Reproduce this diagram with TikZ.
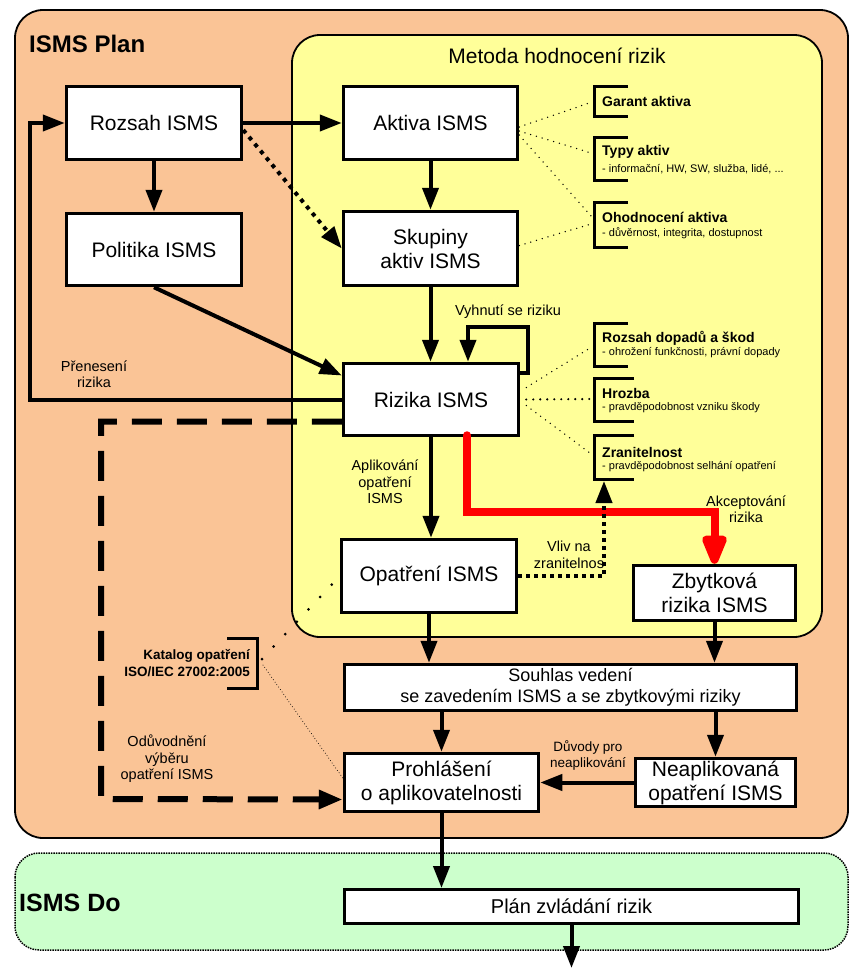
\documentclass[tikz,border=0pt]{standalone}
\usepackage{fontspec}
\setmainfont{Liberation Sans}
\usetikzlibrary{arrows.meta,calc}
\definecolor{planorange}{RGB}{250,196,150}
\definecolor{metyellow}{RGB}{255,255,153}
\definecolor{dogreen}{RGB}{204,255,204}
\newcommand{\fsz}[2]{\fontsize{#1}{#2}\selectfont}
\begin{document}
\begin{tikzpicture}[x=1pt,y=-1pt,
  box/.style={draw, line width=3.5pt, fill=white, align=center, inner sep=0pt, font=\fsz{21}{24}},
  arr/.style={line width=4pt, -{Triangle[length=22pt,width=16pt]}},
  dotarr/.style={line width=4pt, dash pattern=on 4pt off 5pt, -{Triangle[length=22pt,width=16pt]}},
  dasharr/.style={line width=6pt, dash pattern=on 30pt off 15pt, -{Triangle[length=24pt,width=18pt]}},
  redarr/.style={line width=8pt, draw=red, line cap=round, -{Triangle[length=36pt,width=26pt,round=false]}},
  brk/.style={line width=3pt},
  dotline/.style={line width=1.5pt, line cap=round, dash pattern=on 0pt off 6pt},
  bigdots/.style={line width=3pt, line cap=round, dash pattern=on 0pt off 17pt},
  lbl/.style={align=center, inner sep=0pt, font=\fsz{14.5}{16.5}},
  bt/.style={anchor=west, inner sep=0pt, font=\bfseries\fsz{14}{16}},
  bs/.style={anchor=west, inner sep=0pt, font=\fsz{11}{13}}
]
\useasboundingbox (0,0) rectangle (867,977);
\fill[white] (0,0) rectangle (867,977);

% regions
\draw[line width=1.8pt, fill=planorange, rounded corners=28pt] (15,10) rectangle (848,838);
\draw[line width=1.8pt, fill=metyellow, rounded corners=28pt] (292,35) rectangle (822,637);
\draw[line width=1.5pt, fill=dogreen, rounded corners=24pt, densely dotted] (15,853) rectangle (848,950);

\node[anchor=west, inner sep=0pt, font=\bfseries\fsz{24}{28}] (plantitle) at (29,44) {ISMS Plan};
\node[inner sep=0pt, font=\fsz{21}{24}] (mettitle) at (557,56) {Metoda hodnocení rizik};
\node[anchor=west, inner sep=0pt, font=\bfseries\fsz{25}{28}] (dotitle) at (19,903) {ISMS Do};

% main boxes
\node[box, minimum width=175pt, minimum height=73pt] (rozsah) at (154,123) {Rozsah ISMS};
\node[box, minimum width=175pt, minimum height=72pt] (politika) at (154,249.5) {Politika ISMS};
\node[box, minimum width=174pt, minimum height=73pt] (aktiva) at (430.5,123) {Aktiva ISMS};
\node[box, minimum width=174pt, minimum height=74pt] (skupiny) at (430.5,248.5) {Skupiny\\aktiv ISMS};
\node[box, minimum width=175pt, minimum height=72pt] (rizika) at (431,399.5) {Rizika ISMS};
\node[box, minimum width=175pt, minimum height=73pt] (opatreni) at (429,576) {Opatření ISMS};
\node[box, minimum width=162pt, minimum height=55pt] (zbytkova) at (714.5,593) {Zbytková\\rizika ISMS};
\node[box, font=\fsz{18}{21}, minimum width=452pt, minimum height=46pt] (souhlas) at (570.5,687.5) {Souhlas vedení\\se zavedením ISMS a se zbytkovými riziky};
\node[box, minimum width=194pt, minimum height=58pt] (prohlaseni) at (441.5,782.5) {Prohlášení\\o aplikovatelnosti};
\node[box, minimum width=160pt, minimum height=48pt] (neapl) at (715.5,782.5) {Neaplikovaná\\opatření ISMS};
\node[box, line width=3pt, font=\fsz{20}{23}, minimum width=454pt, minimum height=34pt] (plan) at (571.5,906.5) {Plán zvládání rizik};

% bracket groups
\draw[brk] (628,86) -- (594,86) -- (594,116) -- (628,116);
\node[bt] (garant) at (602,101) {Garant aktiva};
\draw[brk] (628,137) -- (594,137) -- (594,180) -- (628,180);
\node[bt] (typy) at (602,152) {Typy aktiv};
\node[bs] (typysub) at (602,169) {- informační, HW, SW, služba, lidé, ...};
\draw[brk] (628,202) -- (594,202) -- (594,247) -- (628,247);
\node[bt] (ohodn) at (602,217) {Ohodnocení aktiva};
\node[bs] (ohodnsub) at (602,233) {- důvěrnost, integrita, dostupnost};
\draw[brk] (628,323) -- (594,323) -- (594,366) -- (628,366);
\node[bt] (dopady) at (602,338) {Rozsah dopadů a škod};
\node[bs] (dopadysub) at (602,353) {- ohrožení funkčnosti, právní dopady};
\draw[brk] (634,378) -- (594,378) -- (594,421) -- (634,421);
\node[bt] (hrozba) at (602,393) {Hrozba};
\node[bs] (hrozbasub) at (602,408) {- pravděpodobnost vzniku škody};
\draw[brk] (634,435) -- (594,435) -- (594,479) -- (634,479);
\node[bt] (zranit) at (602,452) {Zranitelnost};
\node[bs] (zranitsub) at (602,467) {- pravděpodobnost selhání opatření};
\coordinate (zranb) at (604,481);
\draw[brk] (227,638) -- (257,638) -- (257,688) -- (227,688);
\node[anchor=east, align=right, inner sep=0pt, font=\bfseries\fsz{13.5}{17}] (katalog) at (250,663) {Katalog opatření\\ISO/IEC 27002:2005};

% labels
\node[lbl] (vyhnuti) at (508,312) {Vyhnutí se riziku};
\node[lbl] (preneseni) at (94,374) {Přenesení\\rizika};
\node[lbl] (aplikovani) at (385,482) {Aplikování\\opatření\\ISMS};
\node[lbl] (akcept) at (746,509) {Akceptování\\rizika};
\node[lbl] (vliv) at (569,555) {Vliv na\\zranitelnos};
\node[lbl, font=\fsz{13.5}{16}] (duvody) at (588,755) {Důvody pro\\neaplikování};
\node[lbl] (oduv) at (167,759) {Odůvodnění\\výběru\\opatření ISMS};

% dotted association lines
\draw[dotline] ([yshift=-4pt]aktiva.east) -- (592,102);
\draw[dotline] ([yshift=-8pt]aktiva.east) -- (591,153);
\draw[dotline] ([yshift=-12pt]aktiva.east) -- (591,216);
\draw[dotline] ([yshift=3pt]skupiny.east) -- (591,224);
\draw[dotline] ([xshift=6pt,yshift=12pt]rizika.east) -- (590,348);
\draw[dotline, line width=2.4pt, dash pattern=on 0pt off 7pt] ([xshift=6pt]rizika.east) -- (594,399);
\draw[dotline] ([xshift=6pt,yshift=-6pt]rizika.east) -- (590,453);
\draw[bigdots] (262,659) -- (opatreni.west);
\draw[dotline, line width=1pt, dash pattern=on 0pt off 3pt] (263,665) -- ([yshift=4.5pt]prohlaseni.west);

% connectors
\draw[arr] (rozsah.east) -- (aktiva.west);
\draw[arr] (rozsah.south) -- (politika.north);
\draw[dotarr] ([yshift=-7pt]rozsah.east) -- (skupiny.west);
\draw[arr] (aktiva.south) -- (aktiva.south |- skupiny.north);
\draw[arr] (skupiny.south) -- (skupiny.south |- rizika.north);
\draw[arr] (politika.south) -- ([yshift=24pt]rizika.west);
\draw[arr] ([yshift=27pt]rizika.east) -| (528,327) -| ([xshift=37pt]rizika.north);
\draw[arr] (rizika.west) -| (30,123) -- (rozsah.west);
\draw[dasharr] ([yshift=-22pt]rizika.west) -| (101,799) -- ([yshift=-17pt]prohlaseni.west);
\draw[arr] (rizika.south) -- (rizika.south |- opatreni.north);
\draw[redarr] ([xshift=36pt,yshift=2pt]rizika.south) |- ($(zbytkova.north)+(0,-52)$) -- (zbytkova.north);
\draw[dotarr, dash pattern=on 4pt off 4pt] (opatreni.east) -| (zranb);
\draw[arr] (opatreni.south) -- (opatreni.south |- souhlas.north);
\draw[arr] (zbytkova.south) -- (zbytkova.south |- souhlas.north);
\draw[arr] (souhlas.south -| prohlaseni.north) -- (prohlaseni.north);
\draw[arr] (souhlas.south -| neapl.north) -- (neapl.north);
\draw[arr] (neapl.west) -- (neapl.west -| prohlaseni.east);
\draw[arr] (prohlaseni.south) -- (prohlaseni.south |- plan.north);
\coordinate (planout) at (571.5,968);
\draw[arr] (plan.south) -- (planout);
\end{tikzpicture}
\end{document}
